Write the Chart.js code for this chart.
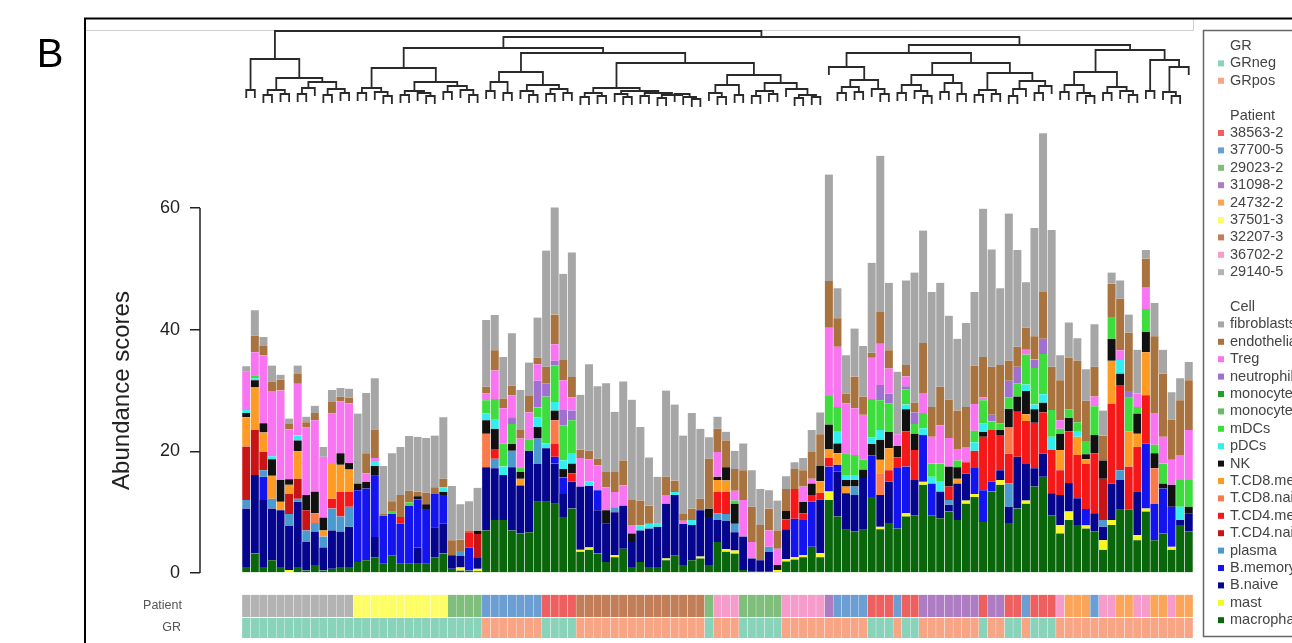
<!DOCTYPE html>
<html>
<head>
<meta charset="utf-8">
<script src="https://cdn.jsdelivr.net/npm/chart.js@4.4.1/dist/chart.umd.min.js"></script>
<style>
  html, body { margin: 0; padding: 0; background: #fff; }
  #wrap { width: 1292px; height: 643px; }
</style>
</head>
<body>
<div id="wrap"><canvas id="abundanceChart" width="1292" height="643"></canvas></div>
<script>
// ---- data (one value per sample, dendrogram order) ----
const fibroblasts = [0.9, 4.2, 1.5, 2.6, 0.8, 0.9, 1.4, 0.9, 1.2, 1.6,
  2.0, 1.4, 1.5, 11.5, 9.9, 8.4, 7.9, 7.9, 7.9, 9.0,
  9.0, 9.0, 8.5, 10.1, 8.9, 5.8, 4.8, 7.1, 11.0, 5.8,
  6.8, 8.6, 6.6, 5.5, 6.6, 19.1, 17.6, 14.2, 20.5, 9.0,
  14.2, 11.9, 14.6, 9.9, 13.0, 16.5, 12.1, 7.9, 7.7, 14.2,
  12.5, 12.9, 15.7, 11.5, 3.5, 2.0, 1.4, 3.0, 4.4, 6.0,
  5.9, 3.0, 4.9, 2.1, 1.1, 2.0, 3.6, 3.6, 17.5, 4.9,
  6.3, 7.9, 8.3, 14.8, 25.7, 11.1, 10.3, 13.9, 21.4, 18.5,
  18.9, 17.1, 13.8, 11.8, 13.8, 12.1, 24.4, 19.3, 12.6, 24.2,
  15.9, 7.5, 17.8, 26.1, 22.5, 4.1, 5.8, 3.7, 5.2, 7.0,
  4.1, 1.8, 3.0, 3.0, 7.2, 1.4, 5.5, 3.9, 4.5, 3.6, 3.0];
const endothelial = [0, 2.7, 1.5, 1.6, 1.8, 0.9, 1.6, 0.9, 1.2, 0,
  1.9, 0.8, 0.9, 0, 3.3, 4.7, 0.3, 1.6, 3.6, 1.9,
  0.8, 1.9, 1.1, 1.4, 2.5, 1.9, 0.3, 0, 1.1, 3.3,
  1.6, 1.6, 1.4, 2.7, 1.1, 2.7, 4.9, 3.3, 3.3, 1.4,
  1.4, 1.1, 2.5, 3.3, 4.1, 4.1, 4.1, 3.0, 0, 3.0,
  1.9, 1.1, 1.9, 1.9, 8.2, 3.8, 4.4, 3.6, 4.9, 5.8,
  5.8, 3.6, 3.0, 3.6, 3.3, 2.7, 4.4, 5.2, 7.7, 4.7,
  1.6, 5.2, 3.0, 0.8, 5.2, 3.0, 0, 1.9, 1.6, 8.2,
  4.9, 6.3, 6.3, 6.3, 6.6, 6.3, 6.6, 7.9, 9.6, 3.3,
  3.3, 3.6, 3.8, 7.7, 7.1, 6.6, 8.5, 10.1, 6.6, 4.9,
  4.1, 5.5, 8.5, 9.6, 0, 4.7, 12.6, 10.4, 6.6, 9.0, 8.2];
const Treg = [6.3, 3.8, 11.2, 10.7, 14.7, 8.2, 8.5, 11.1, 11.7, 10.0,
  8.1, 8.5, 9.8, 0, 1.4, 0.5, 0, 0, 0, 0,
  0, 0, 0, 0, 0, 0, 0, 0, 1.1, 4.7,
  5.8, 3.6, 4.7, 4.4, 2.7, 0, 2.7, 4.9, 2.2, 4.7,
  3.6, 4.1, 3.8, 2.5, 3.3, 1.4, 0, 0, 0, 1.4,
  0, 0.5, 0, 0, 0, 4.1, 0, 1.6, 6.0, 2.7,
  0, 2.7, 2.7, 0, 0, 2.5, 0.8, 0, 11.2, 9.9,
  8.2, 7.7, 7.4, 6.8, 6.8, 4.1, 1.9, 1.6, 0, 3.3,
  4.4, 6.3, 4.7, 1.9, 2.5, 4.4, 0.5, 0, 0, 0,
  0, 0.8, 0, 0, 0, 1.4, 0, 0, 0, 1.6,
  0, 0, 1.6, 0, 2.2, 3.6, 5.2, 4.4, 4.1, 4.1, 8.2];
const neutrophils = [0, 0, 0, 0, 0, 0, 0, 0, 0, 0,
  0, 0, 0, 0, 0, 0, 0, 0, 0, 0,
  0, 0, 0, 0, 0, 0, 0, 0, 0, 0,
  0, 1.1, 0, 0, 4.4, 2.2, 0.8, 2.5, 1.6, 0,
  0, 0, 0, 0, 0, 0, 0, 0, 0, 0,
  0, 0, 0, 0, 0, 0, 0, 0, 0, 0,
  0, 0, 0, 0, 0, 0, 0, 0, 0, 0,
  0, 0, 0, 0, 2.5, 1.6, 0, 0.5, 1.9, 0,
  0, 0, 0, 0, 0, 0, 0, 1.1, 0, 2.7,
  2.7, 0, 1.4, 2.5, 0, 0, 0, 0, 0, 0,
  0, 0, 0, 1.1, 0, 0, 0, 0, 0, 0, 0];
const monocytes = Array(111).fill(0);   // no segment of this shade is visible
const monocytesNC = Array(111).fill(0); // no segment of this shade is visible
const mDCs = [0, 0.5, 0, 0, 0, 0, 0, 0, 0, 0,
  0, 0, 0, 0, 0, 0, 0, 0.5, 0, 0.5,
  0, 0, 0, 0, 0, 0, 0, 0, 2.2, 3.3,
  3.8, 3.3, 0.8, 1.9, 1.6, 7.7, 6.0, 5.8, 5.5, 0,
  0, 0, 0, 0, 0, 0, 0, 0, 0, 0,
  0, 0, 0, 0, 0, 0, 0, 0.5, 0, 0,
  0, 0, 0, 0, 0, 0, 0, 0, 4.7, 4.1,
  3.6, 3.3, 1.6, 6.3, 4.9, 4.7, 0, 2.5, 1.6, 2.5,
  2.2, 3.0, 0, 1.1, 0, 1.9, 3.8, 1.4, 1.1, 1.9,
  2.2, 4.9, 6.0, 6.6, 4.4, 0.8, 1.4, 1.6, 2.2, 4.7,
  0, 3.6, 0, 5.5, 1.1, 3.8, 1.4, 3.3, 0, 4.4, 4.4];
const pDCs = [0.5, 0.3, 0, 0.5, 0, 0, 0.8, 0, 0, 0,
  0, 0, 0, 0, 0, 0.8, 0, 0, 0, 0,
  0, 0, 0, 0.8, 0, 0, 0, 0, 1.1, 1.6,
  1.4, 0, 0, 0, 1.6, 0.8, 1.4, 1.4, 1.6, 0,
  0.8, 0, 0, 0, 0, 0, 0.8, 0.8, 0.5, 0,
  0.5, 0, 0.8, 0, 0, 0, 0, 0, 0, 0,
  0, 0, 0, 0, 0, 0, 0, 0, 0, 1.9,
  0.8, 0.8, 0, 1.1, 1.6, 0, 0, 0.8, 0, 1.1,
  1.1, 1.6, 0, 0, 0, 1.4, 1.4, 0, 0, 0,
  0, 1.1, 0.8, 1.4, 2.2, 0, 0, 0.8, 0, 0,
  0, 0, 2.2, 0, 0, 0, 0, 0, 0, 2.2, 0];
const NK = [0.7, 1.2, 1.5, 2.7, 3.6, 0.9, 1.8, 2.5, 3.6, 2.1,
  0, 1.9, 1.1, 1.1, 1.1, 1.6, 0, 0, 0, 0,
  0.5, 0.8, 0, 0.5, 0, 0, 0, 0.5, 2.2, 3.3,
  0, 1.1, 1.1, 0, 1.9, 0, 1.6, 1.4, 1.6, 0,
  0, 0, 2.2, 0, 0, 1.4, 0, 0, 0, 0,
  0, 0, 0, 0, 1.4, 0.5, 2.2, 3.3, 0, 0,
  0, 0, 0.8, 1.4, 0, 1.9, 1.9, 2.5, 4.1, 1.6,
  1.1, 1.1, 1.4, 1.9, 3.3, 2.7, 1.9, 3.6, 2.7, 0,
  0, 0, 3.3, 1.9, 0, 0, 0.8, 0, 0.8, 3.0,
  2.5, 3.8, 2.2, 1.6, 0, 2.7, 2.2, 0, 0.8, 3.0,
  3.0, 3.6, 1.9, 0, 3.3, 3.3, 2.5, 0.8, 3.6, 0, 1.1];
const TCD8memory = [4.8, 7.0, 3.2, 3.8, 1.4, 1.5, 4.5, 0, 0, 1.0,
  5.9, 4.4, 3.6, 0, 0, 0, 0, 0, 0, 0,
  0, 0, 0, 0, 0, 0, 0, 0, 0, 0,
  0, 0, 1.1, 0, 0, 0, 0, 0, 0, 0,
  0, 0, 0, 0, 0, 0, 0, 0, 0, 0,
  0, 0, 0, 0, 0, 1.9, 1.9, 0, 0, 0,
  0, 0, 0, 0, 0, 0, 0, 1.9, 1.4, 1.9,
  1.1, 0, 0, 0, 2.2, 3.6, 0, 0, 0, 0,
  0, 0, 0, 0.8, 0, 0, 0, 0, 0, 0,
  0, 1.1, 0, 0, 0, 3.3, 0, 3.0, 0.8, 0,
  0, 7.1, 0, 5.8, 2.2, 7.1, 0, 0, 0, 0, 0];
const TCD8naive = [0, 0, 0, 0, 0, 0, 0, 0, 1.6, 0,
  0, 0, 0, 0, 0, 0, 0, 0, 0, 0,
  0, 0, 0, 0, 0, 0, 0, 0, 5.5, 0,
  0, 0, 0, 0, 0, 0, 3.8, 0, 0, 0,
  0, 0, 0, 0, 0, 0, 0, 0, 0, 0,
  0, 0, 0, 0, 0, 0, 0, 0, 0, 0,
  0, 0, 0, 0, 0, 0, 0, 0, 0, 0,
  0, 0, 0, 0, 3.6, 0, 0, 0, 0, 0,
  0, 0, 0, 0, 0, 0, 0, 0, 0, 4.4,
  0, 0, 0, 0, 0, 0, 0, 0, 0, 0,
  0, 0, 0, 0, 0, 0, 5.8, 0, 0, 0, 0];
const TCD4memory = [0, 0, 0, 0, 0, 0, 0, 0, 0, 0,
  1.6, 4.1, 2.5, 0, 0, 0, 0, 0, 1.1, 0,
  0, 0, 0, 0, 0, 0, 2.5, 0, 0, 1.6,
  0, 0, 0, 0, 0, 0, 2.2, 0, 1.4, 0,
  0, 0, 0, 0, 0, 0, 0, 0, 0, 0,
  0, 0, 0, 0, 0, 3.6, 3.6, 0, 0, 0,
  0, 0, 0, 1.6, 4.9, 1.1, 1.1, 1.1, 1.4, 0,
  0, 0, 0, 0, 0, 1.9, 1.6, 5.8, 4.9, 0,
  0, 0, 2.2, 0, 1.9, 2.7, 8.8, 8.5, 5.8, 4.9,
  7.4, 7.1, 7.5, 6.8, 7.1, 4.1, 8.5, 7.1, 7.4, 9.9,
  0, 13.1, 14.0, 7.1, 7.4, 7.9, 0, 0, 0, 0, 0];
const TCD4naive = [8.8, 7.4, 3.0, 0, 0, 3.3, 3.3, 3.3, 0, 0,
  0, 0, 0, 0, 0, 0, 0, 0, 0, 0,
  0, 0, 0, 0, 0, 0, 0, 3.8, 0, 0,
  0, 0, 0, 0, 0, 0, 0, 0, 0, 0,
  0, 0, 0, 0, 0, 0, 0, 0, 0, 0,
  0, 0, 0, 0, 0, 0, 0, 0, 0, 0,
  0, 0, 0, 0, 0, 0, 0, 0, 0, 0,
  0, 0, 0, 0, 0, 0, 0, 0, 0, 0,
  0, 0, 0, 0, 0, 0, 0, 0, 0, 0,
  0, 0, 0, 0, 0, 0, 0, 0, 0, 0,
  6.8, 0, 0, 0, 0, 0, 0, 0, 0, 0, 0];
const plasma = [1.4, 0, 1.1, 1.6, 0, 1.9, 0.5, 1.9, 1.4, 1.8,
  3.6, 2.5, 3.3, 0, 0, 0, 0, 0, 0, 0,
  0, 0, 0, 0, 0, 0.8, 0, 0, 0, 1.6,
  0, 2.7, 0, 0, 4.1, 0, 0, 0, 0, 0,
  0, 0, 0, 0.8, 0, 0, 0, 0, 0, 0,
  0, 0, 0, 0, 0, 1.1, 1.1, 1.4, 0, 0,
  0, 0.8, 0, 0, 0, 0, 0, 0, 0, 0,
  0, 1.4, 0, 0, 0, 0, 0, 0, 0, 0,
  0, 0, 0.8, 0, 0, 0, 0, 0, 0, 3.8,
  0, 0, 0, 0, 0, 0, 0, 0, 0, 0,
  1.1, 0, 1.6, 0, 0, 0, 0, 0, 0, 0, 0];
const Bmemory = [0, 0, 3.8, 0, 0, 0, 0, 0, 0, 0,
  0, 0, 0, 11.8, 11.8, 10.1, 7.9, 6.8, 6.6, 9.6,
  7.9, 9.0, 5.5, 4.7, 0, 0, 3.8, 0, 0, 0,
  0, 0, 0, 0, 0, 0, 1.1, 2.7, 0, 0,
  0, 3.3, 0, 0, 0, 0, 0, 0, 0, 0,
  0, 0, 0, 0, 0, 0, 0, 0, 0, 0,
  0, 0, 0, 0, 6.3, 5.8, 7.4, 0, 4.1, 1.1,
  0, 0, 0, 6.8, 0, 0, 10.1, 7.7, 0, 7.7,
  5.2, 0, 0, 0, 0, 4.4, 5.2, 1.6, 0, 0,
  0, 0, 0, 0, 0, 0, 0, 0, 2.7, 0,
  0, 0, 0, 0, 0, 10.7, 6.0, 7.4, 6.6, 0, 0];
const Bnaive = [9.6, 12.9, 11.0, 8.5, 9.3, 7.3, 10.7, 4.7, 5.5, 3.8,
  6.3, 5.8, 6.6, 0, 0, 3.3, 0, 0, 0, 0,
  2.7, 0, 4.9, 4.9, 2.2, 1.9, 0, 1.9, 10.4, 8.5,
  7.4, 10.4, 7.9, 13.4, 6.3, 8.8, 6.6, 3.8, 4.4, 10.4,
  10.1, 7.1, 6.3, 7.1, 7.1, 4.1, 5.2, 6.3, 6.6, 9.0,
  9.9, 6.8, 5.8, 7.6, 7.9, 3.6, 4.7, 3.0, 5.5, 2.2,
  1.9, 3.3, 0, 4.9, 0, 0, 0, 8.8, 0, 7.4,
  6.0, 6.0, 8.5, 0, 5.2, 6.8, 0, 0, 5.8, 0,
  0, 4.4, 1.1, 6.0, 4.4, 0, 0, 0, 1.6, 2.7,
  8.5, 6.0, 3.0, 3.8, 3.6, 4.9, 4.7, 4.4, 0, 3.0,
  2.2, 6.0, 4.9, 0, 7.1, 0, 0, 0, 0, 0.8, 3.0];
const mast = [0, 0, 0, 0, 0, 0.5, 0, 0, 0, 0,
  0, 0, 0, 0, 0, 0, 0, 0, 0, 0,
  0, 0, 0, 0, 0, 0.5, 0, 0.4, 0, 0,
  0, 0, 0, 0, 0, 0, 0, 0, 0, 0.3,
  0.4, 0, 0, 0.3, 0, 0, 0, 0, 0, 0.3,
  0, 0, 0, 0.3, 0, 0, 0.4, 0.5, 0, 0,
  0, 0, 0.3, 0.4, 0.4, 0.3, 0, 0.7, 1.4, 0,
  0, 0, 0, 0, 0.4, 0, 0, 0.5, 0, 0.5,
  0, 0, 0, 0, 0.5, 0.5, 0, 0, 0.8, 0,
  0, 0.5, 0, 0, 0, 1.4, 1.4, 0, 0.5, 0,
  1.6, 0.8, 0, 0, 0.8, 0.5, 0, 0, 0.5, 0, 0];
const macrophages = [1.0, 3.2, 1.0, 2.1, 1.0, 0, 1.0, 0.4, 1.3, 0.4,
  0.7, 1.0, 1.0, 1.8, 2.1, 2.6, 1.5, 2.9, 1.5, 1.5,
  1.5, 1.5, 2.6, 3.2, 0.7, 0.4, 0.4, 0.3, 7.0, 8.7,
  8.7, 7.0, 6.5, 6.7, 11.7, 11.7, 11.4, 9.2, 10.6, 3.5,
  3.8, 3.2, 1.8, 2.6, 4.0, 1.0, 1.8, 1.0, 1.0, 2.1,
  2.9, 1.3, 2.1, 2.4, 1.3, 5.1, 3.5, 3.2, 0.5, 0.2,
  0.2, 0.2, 0.2, 1.9, 2.2, 2.6, 4.3, 2.6, 12.0, 9.3,
  7.1, 6.8, 7.1, 12.5, 7.2, 8.2, 7.3, 9.3, 9.5, 14.5,
  9.5, 9.0, 10.1, 8.7, 11.4, 12.5, 8.4, 13.4, 14.5, 8.2,
  10.6, 11.4, 14.2, 15.8, 9.5, 6.5, 8.7, 7.9, 7.3, 6.8,
  3.8, 7.9, 10.4, 10.4, 5.4, 10.1, 5.4, 6.5, 3.8, 7.9, 6.8];

// patient of each sample, as runs of consecutive bars
const patientRuns = [
  ["29140-5", 13], ["37501-3", 11], ["29023-2", 4], ["37700-5", 7], ["38563-2", 4],
  ["32207-3", 15], ["29023-2", 1], ["36702-2", 3], ["29023-2", 5], ["36702-2", 5],
  ["31098-2", 1], ["37700-5", 4], ["38563-2", 3], ["37700-5", 1], ["38563-2", 2],
  ["31098-2", 7], ["38563-2", 1], ["31098-2", 2], ["38563-2", 2], ["37700-5", 1],
  ["38563-2", 3], ["36702-2", 1], ["24732-2", 3], ["37700-5", 1], ["36702-2", 2],
  ["24732-2", 2], ["36702-2", 2], ["24732-2", 2], ["36702-2", 1], ["24732-2", 2]
];
const patientNames = ["38563-2", "37700-5", "29023-2", "31098-2", "24732-2", "37501-3", "32207-3", "36702-2", "29140-5"];
const patientColors = ["#ee6060", "#6b9ed2", "#7fbf7b", "#ae7cc2", "#fba55a", "#fdfd66", "#c17e59", "#f59ccb", "#b3b3b3"];
const patientGR = { "38563-2": "GRneg", "37700-5": "GRpos", "29023-2": "GRneg", "31098-2": "GRpos", "24732-2": "GRpos",
  "37501-3": "GRneg", "32207-3": "GRpos", "36702-2": "GRpos", "29140-5": "GRneg" };
const grNames = ["GRneg", "GRpos"];
const grColors = ["#88d3ba", "#f8a586"];

const cellNames = ["fibroblasts", "endothelial", "Treg", "neutrophils", "monocytes", "monocytes.NC", "mDCs", "pDCs", "NK",
  "T.CD8.memory", "T.CD8.naive", "T.CD4.memory", "T.CD4.naive", "plasma", "B.memory", "B.naive", "mast", "macrophages"];
const cellColors = ["#a6a6a6", "#a8733f", "#f874f0", "#a070d0", "#22a022", "#66bb66", "#3ddd3d", "#33eeee", "#111111",
  "#ff9a22", "#fb7a4a", "#f51818", "#c81414", "#4a9ad0", "#1414ee", "#05058e", "#f8f820", "#0a660a"];
const cellValues = [fibroblasts, endothelial, Treg, neutrophils, monocytes, monocytesNC, mDCs, pDCs, NK,
  TCD8memory, TCD8naive, TCD4memory, TCD4naive, plasma, Bmemory, Bnaive, mast, macrophages];

// dendrogram: [merge height, left, right]; numbers are sample (bar) indices
const dendrogram = [74,
  [46, [15, 0, 1], [27, [15, [10, 2, 3], [11, 4, 5]], [23, [17, [11, 6, 7], 8], [16, [10, 9, 10], [12, 11, 12]]]]],
  [68,
    [57,
      [37, [17, [12, 13, 14], [13, 15, [9, 16, 17]]], [23, [14, [10, 18, 19], [12, 20, [9, 21, 22]]], [19, [13, 23, 24], [15, 25, [10, 26, 27]]]]],
      [52,
        [33, [23, [14, 28, 29], [12, 30, 31]], [20, [14, 32, [10, 33, 34]], [16, [11, 35, 36], [12, 37, 38]]]],
        [42,
          [17, [12, [8, 39, 40], [9, 41, 42]], [14, [11, 43, [8, 44, 45]], [12, [9, 46, 47], [10, [7, 48, 49], [11, 50, [8, 51, [6, 52, 53]]]]]]],
          [30, [20, [12, 54, [8, 55, 56]], [10, 57, 58]], [22, [14, [9, 59, 60], [11, 61, 62]], [16, 63, [10, [7, 64, 65], [8, 66, 67]]]]]]]],
    [60,
      [52,
        [38, 68, [25, [18, [12, 69, 70], [13, 71, 72]], [16, 73, [11, 74, 75]]]],
        [42,
          [30, [20, [12, 76, 77], [14, 78, [9, 79, 80]]], [22, [13, 81, 82], [11, 83, 84]]],
          [32, [15, [10, 85, 86], [11, 87, 88]], [24, [16, [9, 89, 90], 91], [19, [12, 92, 93], 94]]]]],
      [55,
        [33, [20, [13, 95, 96], [12, 97, [9, 98, 99]]], [18, [12, 100, 101], [14, 102, [10, 103, 104]]]],
        [45, [14, 105, 106], [38, [13, 107, [9, 108, 109]], 110]]]]]];

const yTicks = [0, 20, 40, 60];

// ---- layout constants ----
const FONT = "'Liberation Sans', Arial, Helvetica, sans-serif";
const LEAF_HANG = 7;
const PATIENT_BAND = [-3.6, -7.25];
const GR_BAND = [-7.4, -10.7];

const barPatient = patientRuns.flatMap(([p, n]) => Array(n).fill(p));
const barIds = fibroblasts.map((_, i) => i);

const cellDatasets = cellNames.map((name, k) => ({
  label: name,
  data: cellValues[k],
  backgroundColor: cellColors[k],
  borderColor: "rgba(255,255,255,0.9)",
  borderWidth: { left: 0.6, right: 0.6, top: 0, bottom: 0 },
  borderSkipped: false,
  barPercentage: 1,
  categoryPercentage: 1,
  yAxisID: "y"
})).reverse(); // first dataset sits at the bottom of the stack

const stripDataset = (label, band, colors) => ({
  label: label,
  data: barIds.map(() => band),
  backgroundColor: colors,
  borderColor: "rgba(255,255,255,0.35)",
  borderWidth: { left: 0.5, right: 0.5, top: 0, bottom: 0 },
  borderSkipped: false,
  barPercentage: 1,
  categoryPercentage: 1,
  grouped: false,
  yAxisID: "ann"
});

const patientStrip = stripDataset("Patient", PATIENT_BAND,
  barPatient.map(p => patientColors[patientNames.indexOf(p)]));
const grStrip = stripDataset("GR", GR_BAND,
  barPatient.map(p => grColors[grNames.indexOf(patientGR[p])]));

function drawDendrogram(ctx, xs, ds) {
  function walk(node) {
    if (typeof node === "number") return { x: xs.getPixelForValue(node), leaf: true };
    const [h, a, b] = node;
    const A = walk(a), B = walk(b);
    const y = ds.getPixelForValue(h);
    ctx.moveTo(A.x, y); ctx.lineTo(B.x, y);
    [A, B].forEach(c => {
      const yEnd = c.leaf ? ds.getPixelForValue(h - LEAF_HANG) : ds.getPixelForValue(c.h);
      ctx.moveTo(c.x, y); ctx.lineTo(c.x, yEnd);
    });
    return { x: (A.x + B.x) / 2, h: h };
  }
  ctx.save();
  ctx.beginPath();
  walk(dendrogram);
  ctx.strokeStyle = "#2a2a2a";
  ctx.lineWidth = 1.8;
  ctx.lineCap = "square";
  ctx.stroke();
  ctx.restore();
}

function drawLegend(ctx) {
  const rows = [{ title: "GR" }];
  grNames.forEach((n, i) => rows.push({ label: n, color: grColors[i] }));
  rows.push({}, { title: "Patient" });
  patientNames.forEach((n, i) => rows.push({ label: n, color: patientColors[i] }));
  rows.push({}, { title: "Cell" });
  cellNames.forEach((n, i) => rows.push({ label: n, color: cellColors[i] }));

  ctx.save();
  ctx.strokeStyle = "#666";
  ctx.lineWidth = 1.5;
  ctx.strokeRect(1203.5, 30.5, 120, 606);
  ctx.font = "14.5px " + FONT;
  ctx.textBaseline = "middle";
  ctx.textAlign = "left";
  rows.forEach((r, i) => {
    const y = 46 + i * 17.4;
    if (r.title) { ctx.fillStyle = "#444"; ctx.fillText(r.title, 1230, y); }
    if (r.label) {
      ctx.fillStyle = r.color;
      ctx.fillRect(1218, y - 3, 6, 6);
      ctx.fillStyle = "#444";
      ctx.fillText(r.label, 1230, y);
    }
  });
  ctx.restore();
}

const decorPlugin = {
  id: "decor",
  beforeDraw(chart) {
    const ctx = chart.ctx;
    ctx.save();
    ctx.fillStyle = "#fff";
    ctx.fillRect(0, 0, chart.width, chart.height);
    ctx.restore();
  },
  afterDraw(chart) {
    const ctx = chart.ctx;
    const y = chart.scales.y;
    // figure frame
    ctx.save();
    ctx.strokeStyle = "#cfcfcf"; ctx.lineWidth = 1;
    ctx.beginPath();
    ctx.moveTo(86, 30.5); ctx.lineTo(1193.5, 30.5); ctx.lineTo(1193.5, 19);
    ctx.stroke();
    ctx.strokeStyle = "#000"; ctx.lineWidth = 2;
    ctx.beginPath();
    ctx.moveTo(85, 643); ctx.lineTo(85, 18.5); ctx.lineTo(1292, 18.5);
    ctx.stroke();
    // panel letter
    ctx.fillStyle = "#000";
    ctx.font = "40px " + FONT;
    ctx.textAlign = "center"; ctx.textBaseline = "middle";
    ctx.fillText("B", 50, 56);
    // y axis line from 0 to 60 and title
    ctx.strokeStyle = "#222"; ctx.lineWidth = 1.5;
    ctx.beginPath();
    ctx.moveTo(chart.chartArea.left, y.getPixelForValue(yTicks[0]));
    ctx.lineTo(chart.chartArea.left, y.getPixelForValue(yTicks[yTicks.length - 1]));
    ctx.stroke();
    ctx.save();
    ctx.translate(122, y.getPixelForValue(30));
    ctx.rotate(-Math.PI / 2);
    ctx.fillStyle = "#222";
    ctx.font = "24px " + FONT;
    ctx.fillText("Abundance scores", 0, 0);
    ctx.restore();
    // strip labels
    const ann = chart.scales.ann;
    ctx.font = "12.5px " + FONT;
    ctx.textAlign = "right";
    ctx.fillStyle = "#555";
    ctx.fillText("Patient", 182, ann.getPixelForValue((PATIENT_BAND[0] + PATIENT_BAND[1]) / 2));
    ctx.fillText("GR", 181, ann.getPixelForValue((GR_BAND[0] + GR_BAND[1]) / 2));
    ctx.restore();

    drawDendrogram(ctx, chart.scales.x, chart.scales.dend);
    drawLegend(ctx);
  }
};

new Chart(document.getElementById("abundanceChart"), {
  type: "bar",
  data: {
    labels: barIds,
    datasets: [...cellDatasets, patientStrip, grStrip]
  },
  options: {
    responsive: false,
    animation: false,
    events: [],
    layout: { padding: { left: 0, right: 99, top: 28, bottom: 3 } },
    plugins: { legend: { display: false }, tooltip: { enabled: false } },
    scales: {
      x: { type: "linear", axis: "x", position: "bottom", min: -5.4, max: 110.5, stacked: true, display: false, offset: false },
      y: {
        stacked: true,
        min: -11.02,
        max: 89.6,
        position: "left",
        afterFit(scale) { scale.width = 200; scale.paddingTop = 0; scale.paddingBottom = 0; },
        afterBuildTicks(scale) { scale.ticks = yTicks.map(v => ({ value: v })); },
        border: { display: false },
        grid: { drawOnChartArea: false, drawTicks: true, tickLength: 10, color: "#222", lineWidth: 1.5 },
        ticks: { padding: 10, color: "#222", font: { family: FONT, size: 18 } }
      },
      ann: { type: "linear", axis: "y", position: "left", display: false, min: -11.02, max: 89.6 },
      dend: { type: "linear", axis: "y", position: "left", display: false, min: -535, max: 77 }
    }
  },
  plugins: [decorPlugin]
});
</script>
</body>
</html>
